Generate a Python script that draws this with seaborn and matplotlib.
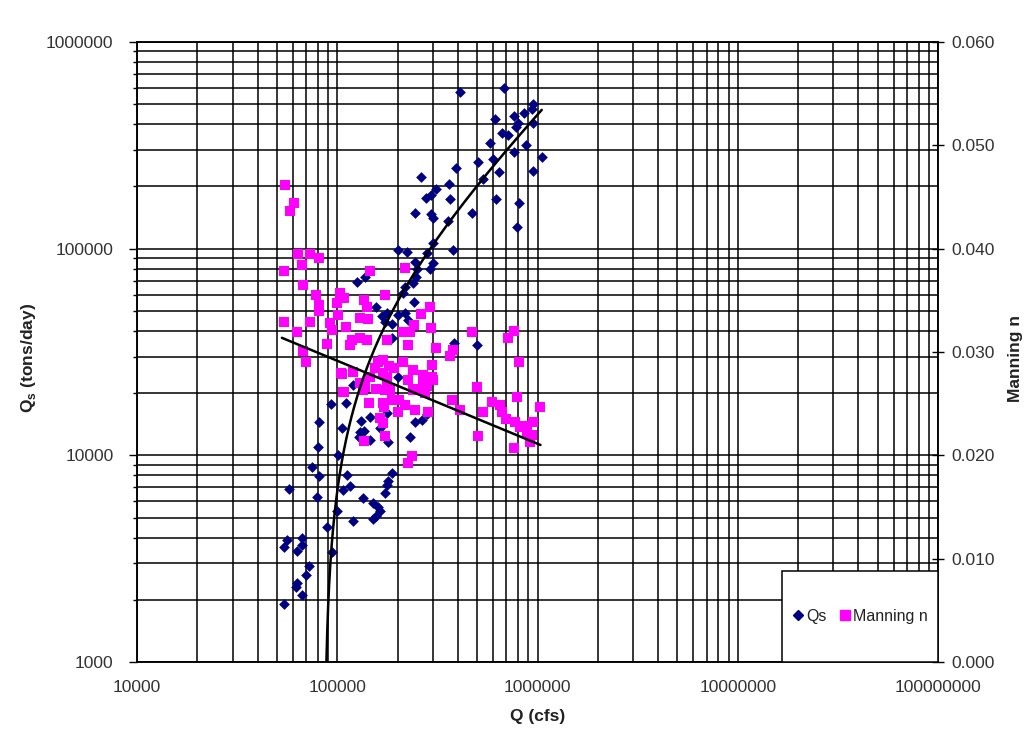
import numpy as np
import pandas as pd
import matplotlib
matplotlib.use("Agg")
import matplotlib.pyplot as plt
import seaborn as sns
from matplotlib.ticker import LogLocator, FuncFormatter, NullFormatter, FixedLocator
from matplotlib.lines import Line2D
from matplotlib.patches import Rectangle

# ---------------- data ----------------
qs_flow = [412000, 680000, 945000, 940000, 860000, 760000, 610000, 800000, 780000, 950000,
           665000, 715000, 580000, 880000, 760000, 1050000, 600000, 505000, 394000, 950000,
           640000, 263000, 536000, 363000, 312000, 278000, 295000, 367000, 622000, 810000,
           245000, 295000, 300000, 473000, 358000, 790000, 200000, 222000, 380000, 282000,
           300000, 245000, 300000, 290000, 250000, 138000, 126000, 248000, 240000, 219000,
           214000, 243000, 157000, 178000, 167000, 200000, 219000, 225000, 187000, 174000,
           384000, 498000, 187000, 200000, 120000, 93000, 110000, 81000, 106000, 132000,
           146000, 178000, 164000, 130000, 136000, 128000, 146000, 80000, 232000, 245000,
           265000, 282000, 180000, 101000, 75000, 81000, 112000, 187000, 116000, 107000,
           57500, 79000, 135000, 100000, 120000, 151000, 159000, 164000, 157000, 151000,
           178000, 180000, 174000, 89000, 67000, 56000, 54000, 66500, 63000, 94500,
           72000, 70000, 63000, 62000, 67000, 54000]
qs_load = [573000, 598000, 501000, 475000, 453000, 438000, 423000, 406000, 388000, 406000,
           362000, 355000, 325000, 318000, 294000, 278000, 272000, 263000, 245000, 238000,
           235000, 222000, 217000, 205000, 194000, 176000, 182000, 174000, 174000, 166000,
           149000, 147000, 141000, 149000, 136000, 127000, 98000, 96000, 98600, 95500,
           107000, 86000, 85000, 80000, 80000, 73000, 69000, 73000, 68000, 65000,
           61000, 55000, 52000, 49000, 47000, 48000, 49000, 45000, 43000, 44000,
           35000, 34000, 37000, 24000, 22000, 17800, 18000, 14500, 13600, 14700,
           15400, 16000, 13500, 12900, 13100, 12300, 11900, 11000, 12300, 14500,
           14800, 15900, 11600, 10000, 8800, 7900, 8000, 8200, 7100, 6800,
           6900, 6300, 6200, 5400, 4800, 5900, 5600, 5400, 5100, 4900,
           7200, 7500, 6600, 4500, 4000, 3900, 3600, 3700, 3450, 3400,
           2900, 2650, 2400, 2300, 2100, 1900]

n_flow = [55000, 61000, 58000, 63600, 73300, 81000, 67000, 54000, 146000, 67500,
          219000, 78500, 81000, 81000, 103000, 108000, 100000, 136000, 141000, 174000,
          290000, 101000, 130000, 143000, 54000, 73300, 92300, 111000, 94500, 63000,
          242000, 263000, 295000, 214000, 232000, 473000, 760000, 715000, 119000, 130000,
          141000, 178000, 89000, 67500, 116000, 225000, 312000, 70000, 106000, 120000,
          146000, 170000, 182000, 159000, 214000, 240000, 268000, 298000, 300000, 225000,
          178000, 130000, 107000, 134000, 157000, 174000, 250000, 282000, 275000, 498000,
          810000, 144000, 170000, 187000, 200000, 245000, 285000, 373000, 412000, 536000,
          590000, 653000, 665000, 790000, 1035000, 164000, 170000, 174000, 136000, 505000,
          776000, 822000, 950000, 940000, 890000, 760000, 237000, 225000, 367000, 380000,
          850000, 920000, 700000, 104000, 108000, 138000, 155000, 170000, 178000, 193000,
          184000, 203000, 172000, 219000, 240000, 268000, 298000]
n_value = [0.0462, 0.0444, 0.0436, 0.0395, 0.0395, 0.0391, 0.0384, 0.0378, 0.0378, 0.0365,
           0.0381, 0.0355, 0.0345, 0.0340, 0.0357, 0.0352, 0.0347, 0.0350, 0.0344, 0.0355,
           0.0344, 0.0336, 0.0333, 0.0332, 0.0329, 0.0329, 0.0328, 0.0324, 0.0321, 0.0319,
           0.0326, 0.0337, 0.0323, 0.0319, 0.0319, 0.0319, 0.0320, 0.0314, 0.0312, 0.0314,
           0.0312, 0.0312, 0.0308, 0.0301, 0.0307, 0.0307, 0.0304, 0.0290, 0.0279, 0.0281,
           0.0276, 0.0280, 0.0286, 0.0290, 0.0290, 0.0283, 0.0278, 0.0287, 0.0273, 0.0273,
           0.0271, 0.0270, 0.0261, 0.0263, 0.0264, 0.0263, 0.0264, 0.0267, 0.0260, 0.0266,
           0.0290, 0.0251, 0.0251, 0.0254, 0.0242, 0.0244, 0.0242, 0.0254, 0.0244, 0.0242,
           0.0252, 0.0249, 0.0242, 0.0256, 0.0247, 0.0236, 0.0231, 0.0219, 0.0214, 0.0219,
           0.0232, 0.0227, 0.0232, 0.0220, 0.0223, 0.0207, 0.0199, 0.0193, 0.0296, 0.0302,
           0.0228, 0.0213, 0.0235, 0.0280, 0.0261, 0.0266, 0.0285, 0.0292, 0.0276, 0.0285,
           0.0263, 0.0254, 0.0247, 0.0249, 0.0263, 0.0273, 0.0276]

# trend-line equations as shown on the chart
qs_trend = [0.487, -42000.0]          # Qs = a*Q + b (linear)
n_trend = [-0.003488, 0.06931]        # n = a*ln(Q) + b (logarithmic)

x_ticks = [10000, 100000, 1000000, 10000000, 100000000]
y_ticks = [1000, 10000, 100000, 1000000]
n_ticks = [0.000, 0.010, 0.020, 0.030, 0.040, 0.050, 0.060]
series_names = ["Qs", "Manning n"]

qs_df = pd.DataFrame({"Q": qs_flow, "Qs": qs_load})
n_df = pd.DataFrame({"Q": n_flow, "n": n_value})

# ---------------- style ----------------
sns.set_theme(style="white")
plt.rcParams["font.family"] = ["Liberation Sans", "DejaVu Sans"]
plt.rcParams["mathtext.fontset"] = "custom"
plt.rcParams["mathtext.rm"] = "Liberation Sans"
plt.rcParams["mathtext.bf"] = "Liberation Sans:bold"

navy = "#000080"
magenta = "#FF00FF"

fig = plt.figure(figsize=(10.31, 7.29), dpi=100)
fig.patch.set_facecolor("white")
ax = fig.add_axes([137 / 1031, 1 - 662 / 729, 801 / 1031, 620 / 729])
ax.set_xscale("log")
ax.set_yscale("log")
ax.set_xlim(1e4, 1e8)
ax.set_ylim(1e3, 1e6)
ax.set_axisbelow(True)
ax.grid(which="both", color="black", linewidth=1.1)

sns.scatterplot(data=qs_df, x="Q", y="Qs", marker="D", color=navy, s=30,
                linewidth=0, ax=ax, zorder=3, legend=False)

ax.xaxis.set_major_locator(FixedLocator(x_ticks))
ax.yaxis.set_major_locator(FixedLocator(y_ticks))
ax.xaxis.set_minor_locator(LogLocator(base=10, subs=np.arange(2, 10)))
ax.yaxis.set_minor_locator(LogLocator(base=10, subs=np.arange(2, 10)))
ax.xaxis.set_minor_formatter(NullFormatter())
ax.yaxis.set_minor_formatter(NullFormatter())
fmt = FuncFormatter(lambda v, p: f"{int(round(v))}")
ax.xaxis.set_major_formatter(fmt)
ax.yaxis.set_major_formatter(fmt)
ax.tick_params(axis="y", which="major", direction="out", length=6, width=1,
               color="black", labelsize=12.5, labelcolor="#333333", pad=11)
ax.tick_params(axis="x", which="major", direction="out", length=5, width=1,
               color="black", labelsize=12.5, labelcolor="#333333", pad=8)
ax.tick_params(axis="y", which="minor", direction="out", length=3, width=1, color="black")
ax.tick_params(axis="x", which="minor", length=0)
for sp in ax.spines.values():
    sp.set_color("black")
    sp.set_linewidth(1.1)

ax.set_xlabel("Q (cfs)", fontsize=12.5, fontweight="bold", color="#222222")
ax.set_ylabel(r"Q$_\mathbf{s}$ (tons/day)", fontsize=12.5, fontweight="bold", color="#222222")
ax.xaxis.set_label_coords(0.5, -0.075)
ax.yaxis.set_label_coords(-0.124, 0.49)

# secondary axis
ax2 = ax.twinx()
sns.scatterplot(data=n_df, x="Q", y="n", marker="s", color=magenta, s=48,
                linewidth=0, ax=ax2, zorder=3, legend=False)
ax2.set_ylim(0, 0.06)
ax2.set_xlim(1e4, 1e8)
ax2.yaxis.set_major_locator(FixedLocator(n_ticks))
ax2.yaxis.set_major_formatter(FuncFormatter(lambda v, p: f"{v:.3f}"))
ax2.tick_params(axis="y", which="major", direction="inout", length=9, width=1,
                color="black", labelsize=12.5, labelcolor="#333333", pad=5)
ax2.tick_params(axis="y", which="minor", length=0)
ax2.set_ylabel("Manning n", fontsize=12.5, fontweight="bold", color="#222222")
ax2.yaxis.set_label_coords(1.088, 0.49)
ax2.grid(False)
for sp in ax2.spines.values():
    sp.set_color("black")
    sp.set_linewidth(1.1)

# trend lines
xq = np.geomspace(qs_df["Q"].min(), qs_df["Q"].max(), 3000)
yq = np.polyval(qs_trend, xq)
yq = np.where(yq > 0, yq, np.nan)
ax2.plot(xq, yq, color="black", linewidth=1.8, transform=ax.transData,
         zorder=4, scalex=False, scaley=False)

xn = np.geomspace(n_df["Q"].min() * 0.98, n_df["Q"].max(), 200)
yn = np.polyval(n_trend, np.log(xn))
ax2.plot(xn, yn, color="black", linewidth=1.8, zorder=4)

ax2.set_ylim(0, 0.06)
ax2.set_xlim(1e4, 1e8)

# legend box
ax2.add_patch(Rectangle((0.805, 0.0), 0.195, 0.147, transform=ax2.transAxes,
                        facecolor="white", edgecolor="black", linewidth=1.1, zorder=6))
handles = [Line2D([], [], marker="D", color=navy, linestyle="none", markersize=5.5),
           Line2D([], [], marker="s", color=magenta, linestyle="none", markersize=7)]
leg = ax2.legend(handles, series_names, loc="center",
                 bbox_to_anchor=(0.805, 0.0, 0.195, 0.147), bbox_transform=ax2.transAxes,
                 ncol=2, frameon=False, fontsize=11.5, handlelength=0.8,
                 handletextpad=0.1, columnspacing=0.8, labelcolor="#222222")
leg.set_zorder(7)

fig.savefig("out.png", dpi=100, facecolor="white")
